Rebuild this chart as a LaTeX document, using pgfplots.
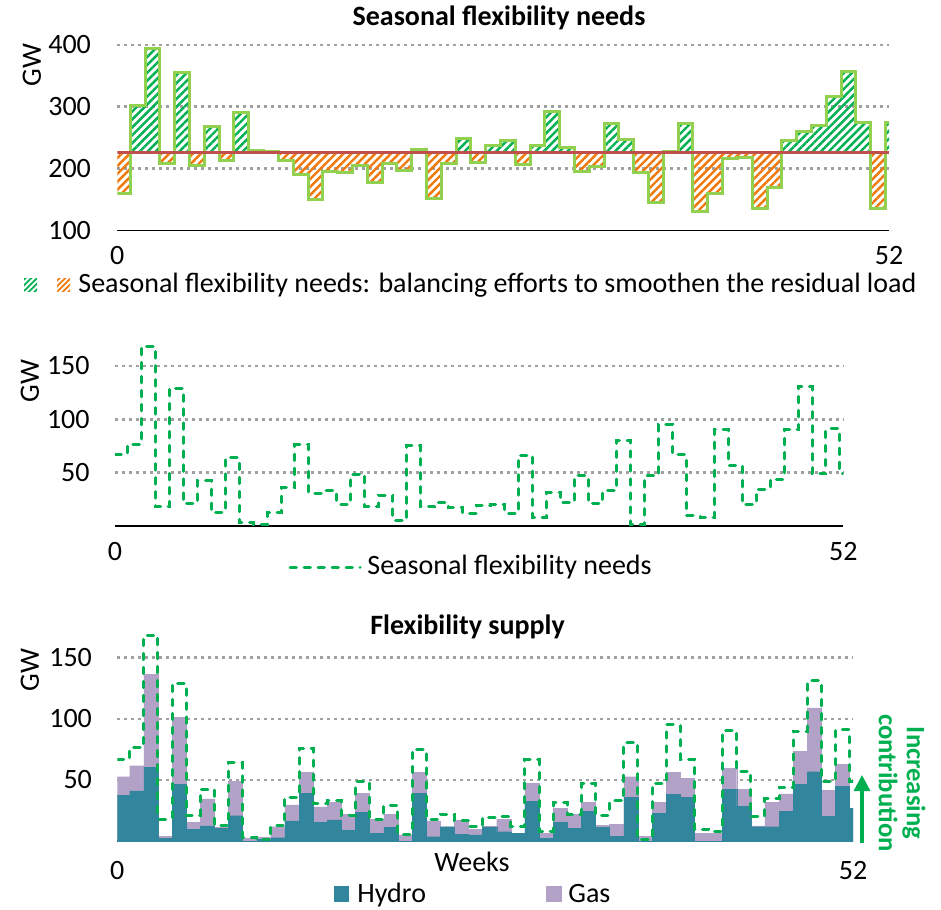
\documentclass[border=0pt]{standalone}
\usepackage{pgfplots}
\pgfplotsset{compat=1.18}
\usepackage{pgfplotstable}
\usepgfplotslibrary{fillbetween}
\usetikzlibrary{patterns.meta,arrows.meta}
\usepackage{fontspec}
\setmainfont{Carlito}

\definecolor{hgreen}{HTML}{00B050}
\definecolor{horange}{HTML}{F0780A}
\definecolor{outl}{HTML}{92D050}
\definecolor{meanred}{HTML}{C0504D}
\definecolor{hydro}{HTML}{31859C}
\definecolor{gas}{HTML}{B3A2C7}
\definecolor{gridgray}{HTML}{A0A0A0}

\pgfplotstableread{
j x xc n v h g
1 0 0.38 67 159 37.6 15
2 0.88 1.38 76.5 302.5 41 20.6
3 1.88 2.38 168.5 394.5 60 76.4
4 2.88 3.38 18 208 2 2
5 3.88 4.38 129 355 46.6 54.4
6 4.88 5.38 21 205 9.5 5.5
7 5.88 6.38 42.5 268.5 12.3 22.1
8 6.88 7.38 12.5 213.5 10.4 0.8
9 7.88 8.38 64 290 20.7 28.3
10 8.88 9.38 3 229 0 2
11 9.88 10.38 1 227 1.4 1.6
12 10.88 11.38 12.5 213.5 2.7 9
13 11.88 12.38 36 190 16.4 13.1
14 12.88 13.38 76 150 39 17
15 13.88 14.38 30.5 195.5 15 13
16 14.88 15.38 33 193 17.2 14.2
17 15.88 16.38 20.5 205.5 8.5 13.5
18 16.88 17.38 48.5 177.5 23.2 15.8
19 17.88 18.38 18 208 6.3 11.7
20 18.88 19.38 29 197 11 11
21 19.88 20.38 5.5 231.5 0 5
22 20.88 21.38 75 151 39 17
23 21.88 22.38 18 208 3.5 12.9
24 22.88 23.38 22 248 11.7 0
25 23.88 24.38 17 209 5.5 11.5
26 24.88 25.38 12 238 5 4.5
27 25.88 26.38 19.5 245.5 11.5 0.5
28 26.88 27.38 20 206 7.6 10.1
29 27.88 28.38 12 238 6.3 0
30 28.88 29.38 66.5 292.5 32.7 14.3
31 29.88 30.38 8 234 2.2 4.1
32 30.88 31.38 31.5 194.5 15.5 11.5
33 31.88 32.38 22 204 10.4 11.6
34 32.88 33.38 47 273 24 7.4
35 33.88 34.38 21 247 11.2 1.8
36 34.88 35.38 33 193 4 9.6
37 35.88 36.38 80.5 145.5 35.5 17.1
38 36.88 37.38 1 227 0 4
39 37.88 38.38 47 273 22.6 9
40 38.88 39.38 95 131 38.2 17.8
41 39.88 40.38 67 159 35.5 15.8
42 40.88 41.38 9.5 216.5 0 6
43 41.88 42.38 8 218 0 6
44 42.88 43.38 90.5 135.5 42.3 17.2
45 43.88 44.38 57 169 28.6 13.9
46 44.88 45.38 20 246 11.7 0.6
47 45.88 46.38 34.5 260.5 11.7 19.7
48 46.88 47.38 44 270 24 14.5
49 47.88 48.38 90 316 46.4 27.2
50 48.88 49.38 131 357 56.7 52.3
51 49.88 50.38 49 275 20 21.2
52 50.88 51.38 91 135 44.5 18.5
53 51.88 52.38 49 275 27 0
54 52.12 52.62 49 275 27 0
}\data

\pgfplotsset{
  panel/.style={
    scale only axis,
    anchor=south west,
    xmin=0, xmax=52.12,
    axis x line*=bottom, axis y line*=left,
    y axis line style={draw=none},
    x axis line style={black, line width=0.65pt},
    tick style={draw=none},
    major tick length=0pt,
    ymajorgrids,
    grid style={color=gridgray, line width=1.3pt, dash pattern=on 1.3pt off 2.2pt},
    xtick={0,52.12}, xticklabels={0,52},
    tick label style={font=\fontsize{14}{16}\selectfont},
    /pgf/number format/assume math mode=true,
  },
}

\begin{document}
\begin{tikzpicture}
% ---------- top panel ----------
\begin{axis}[panel, at={(58.65pt,-115.15pt)}, width=385.85pt, height=92.65pt,
  ymin=100, ymax=400, ytick={200,300,400}, extra y ticks={100},
  extra y tick style={grid=none},
  yticklabel style={anchor=east, inner sep=0pt, xshift=-13pt},
  xticklabel style={anchor=center, inner sep=0pt, yshift=-12.5pt}]
\addplot[const plot, draw=none, name path=U] table[x=x, y expr={max(\thisrow{v},226)}] {\data};
\addplot[const plot, draw=none, name path=D] table[x=x, y expr={min(\thisrow{v},226)}] {\data};
\addplot[draw=none, name path=M] coordinates {(0,226) (52.12,226)};
\addplot[draw=none, pattern={Lines[angle=45,distance=2.8pt,line width=1.2pt]}, pattern color=hgreen] fill between[of=U and M];
\addplot[draw=none, pattern={Lines[angle=45,distance=2.8pt,line width=1.2pt]}, pattern color=horange] fill between[of=D and M];
\addplot[const plot, color=outl, line width=1.5pt] table[x=x, y=v] {\data};
\addplot[color=meanred, line width=1.6pt] coordinates {(0,226) (52.12,226)};
\end{axis}

% ---------- middle panel ----------
\begin{axis}[panel, at={(57.5pt,-263pt)}, width=364.15pt, height=91.75pt,
  ymin=0, ymax=172, ytick={50,100,150},
  yticklabel style={anchor=east, inner sep=0pt, xshift=-12.5pt},
  xticklabel style={anchor=center, inner sep=0pt, yshift=-13pt}]
\addplot[const plot, color=hgreen, line width=1.5pt, line cap=round, dash pattern=on 3.2pt off 3.8pt] table[x=x, y=n] {\data};
\end{axis}

% ---------- bottom panel ----------
\begin{axis}[panel, at={(58.65pt,-420.5pt)}, width=367.85pt, height=105.1pt,
  ymin=0, ymax=172, ytick={50,100,150},
  yticklabel style={anchor=east, inner sep=0pt, xshift=-12.5pt},
  xticklabel style={anchor=center, inner sep=0pt, yshift=-14.5pt}]
\addplot[ybar, bar width=1, bar shift=0pt, fill=gas, draw=gas, line width=0.2pt,
  skip coords between index={53}{54}] table[x=xc, y expr={\thisrow{h}+\thisrow{g}}] {\data};
\addplot[ybar, bar width=1, bar shift=0pt, fill=hydro, draw=hydro, line width=0.2pt,
  skip coords between index={53}{54}] table[x=xc, y=h] {\data};
\addplot[const plot, color=hgreen, line width=1.5pt, line cap=round, dash pattern=on 3.2pt off 3.8pt] table[x=x, y=n] {\data};
\end{axis}

% ---------- texts ----------
\begin{scope}[every node/.style={font=\fontsize{14}{16}\selectfont, inner sep=0pt}]
\node[font=\fontsize{14}{16}\selectfont\bfseries] at (249.5pt,-9pt) {Seasonal flexibility needs};
\node[font=\fontsize{14}{16}\selectfont\bfseries] at (233.75pt,-313.5pt) {Flexibility supply};
\node[rotate=90] at (16pt,-32.5pt) {GW};
\node[rotate=90] at (15pt,-190.5pt) {GW};
\node[rotate=90] at (15pt,-335pt) {GW};
% top legend
\path[pattern={Lines[angle=45,distance=2pt,line width=0.9pt]}, pattern color=hgreen] (12pt,-139pt) rectangle (18.5pt,-145.5pt);
\path[pattern={Lines[angle=45,distance=2pt,line width=0.9pt]}, pattern color=horange] (28.5pt,-139pt) rectangle (35pt,-145.5pt);
\node[anchor=west] at (39pt,-142.5pt) {Seasonal flexibility needs: balancing efforts to smoothen the residual load};
% middle legend
\draw[hgreen, line width=1.5pt, line cap=round, dash pattern=on 3.2pt off 3.8pt] (145pt,-283.5pt) -- (180pt,-283.5pt);
\node[anchor=west] at (183.5pt,-283.5pt) {Seasonal flexibility needs};
% bottom
\node at (236pt,-431pt) {Weeks};
\fill[hydro] (167pt,-443pt) rectangle (174.5pt,-451pt);
\node[anchor=base west] at (178.5pt,-451pt) {Hydro};
\fill[gas] (273pt,-443pt) rectangle (281pt,-451pt);
\node[anchor=base west] at (284pt,-451pt) {Gas};
\draw[hgreen, line width=1.6pt, -{Triangle[width=8pt,length=8pt]}] (431pt,-421.5pt) -- (431pt,-387.5pt);
\node[rotate=-90, align=center, text=hgreen, font=\fontsize{13.3}{14}\selectfont\bfseries] at (451pt,-391.5pt) {Increasing\\contribution};
\end{scope}
\pgfresetboundingbox
\useasboundingbox (0,0) rectangle (470.5pt,-454.5pt);
\end{tikzpicture}
\end{document}
